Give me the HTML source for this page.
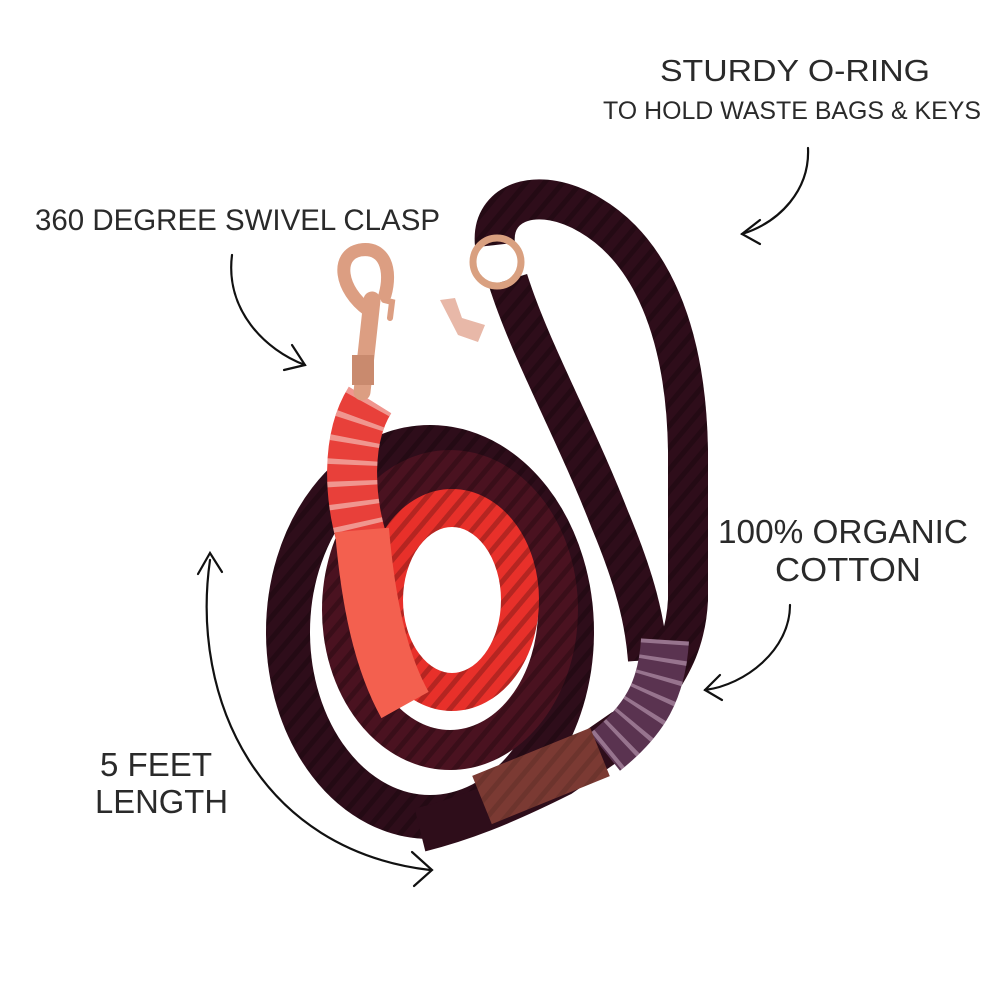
<!DOCTYPE html>
<html><head><meta charset="utf-8"><style>
html,body{margin:0;padding:0;background:#fff}
svg{display:block}
text{font-family:"Liberation Sans",sans-serif;fill:#2a2a2a}
</style></head><body>
<svg width="1000" height="1000" viewBox="0 0 1000 1000">
<defs>
<pattern id="tw" width="14" height="14" patternUnits="userSpaceOnUse" patternTransform="rotate(40)">
<rect width="5" height="14" fill="#000" opacity="0.22"/>
</pattern>
</defs>
<text x="795" y="81" font-size="31" text-anchor="middle" textLength="270" lengthAdjust="spacingAndGlyphs">STURDY O-RING</text>
<text x="792" y="119" font-size="25" text-anchor="middle" textLength="378" lengthAdjust="spacingAndGlyphs">TO HOLD WASTE BAGS &amp; KEYS</text>
<text x="35" y="230" font-size="30" textLength="405" lengthAdjust="spacingAndGlyphs">360 DEGREE SWIVEL CLASP</text>
<text x="718" y="543" font-size="33" textLength="250" lengthAdjust="spacingAndGlyphs">100% ORGANIC</text>
<text x="775" y="581" font-size="33" textLength="146" lengthAdjust="spacingAndGlyphs">COTTON</text>
<text x="100" y="776" font-size="33" textLength="112" lengthAdjust="spacingAndGlyphs">5 FEET</text>
<text x="95" y="813" font-size="33" textLength="133" lengthAdjust="spacingAndGlyphs">LENGTH</text>
<g fill="none" stroke="#111" stroke-width="2.2" stroke-linecap="round">
<path d="M808 148 C 810 190, 780 222, 742 234"/><path d="M760 220 L742 234 L760 244"/>
<path d="M232 255 C 225 310, 265 350, 305 365"/><path d="M292 345 L305 365 L284 370"/>
<path d="M790 605 C 790 650, 745 685, 705 690"/><path d="M720 675 L705 690 L722 700"/>
<path d="M210 560 C 190 700, 260 850, 430 870"/><path d="M198 574 L210 553 L222 572"/><path d="M412 852 L432 870 L414 886"/>
</g>
<!-- outer coil -->
<ellipse cx="430" cy="632" rx="142" ry="185" fill="none" stroke="#2e0d1a" stroke-width="44"/>
<ellipse cx="430" cy="632" rx="142" ry="185" fill="none" stroke="url(#tw)" stroke-width="44"/>
<ellipse cx="450" cy="610" rx="108" ry="140" fill="none" stroke="#4a1220" stroke-width="40"/>
<ellipse cx="450" cy="610" rx="108" ry="140" fill="none" stroke="url(#tw)" stroke-width="40"/>
<ellipse cx="452" cy="600" rx="68" ry="92" fill="none" stroke="#e8302a" stroke-width="38"/>
<ellipse cx="452" cy="600" rx="68" ry="92" fill="none" stroke="url(#tw)" stroke-width="38"/>
<!-- handle loop strands -->
<g fill="none" stroke-width="40">
<path id="a" d="M495 245 C 490 200, 540 185, 590 215 C 650 250, 686 330, 688 450 L 688 600 C 686 640, 672 665, 655 690" stroke="#2e0d1a"/>
<path d="M495 245 C 490 200, 540 185, 590 215 C 650 250, 686 330, 688 450 L 688 600 C 686 640, 672 665, 655 690" stroke="url(#tw)"/>
<path d="M508 280 C 530 350, 575 430, 610 520 C 635 580, 645 620, 648 660" stroke="#2e0d1a"/>
<path d="M508 280 C 530 350, 575 430, 610 520 C 635 580, 645 620, 648 660" stroke="url(#tw)"/>
<path d="M625 730 L560 775 C 500 805, 460 820, 420 830" stroke="#2e0d1a" stroke-width="44"/>
</g>
<path d="M665 640 C 662 690, 645 720, 605 752" fill="none" stroke="#5a3350" stroke-width="48"/>
<path d="M665 640 C 662 690, 645 720, 605 752" fill="none" stroke="#c0a0b8" stroke-width="48" stroke-dasharray="4 14" opacity="0.6"/>
<path d="M482 800 L600 752" fill="none" stroke="#7b3a33" stroke-width="52"/>
<path d="M482 800 L600 752" fill="none" stroke="url(#tw)" stroke-width="52" opacity="0.5"/>
<!-- red end -->
<path d="M370 400 C 345 440, 350 500, 362 540" fill="none" stroke="#e8403a" stroke-width="50"/>
<path d="M370 400 C 345 440, 350 500, 362 540" fill="none" stroke="#f5d0c8" stroke-width="50" stroke-dasharray="5 16" opacity="0.6"/>
<path d="M362 530 C 368 600, 380 660, 405 705" fill="none" stroke="#f3604f" stroke-width="54"/>
<!-- clasp -->
<g fill="none" stroke="#dc9e82" stroke-linecap="round">
<path d="M362 392 L372 300" stroke-width="17"/>
<path d="M368 310 C 340 290, 335 255, 360 250 C 385 246, 392 270, 385 295" stroke-width="13"/>
<path d="M384 300 L392 302 L390 318" stroke-width="6"/>
</g>
<rect x="352" y="355" width="22" height="30" fill="#c98a6e"/>
<!-- ring -->
<circle cx="497" cy="262" r="24" fill="none" stroke="#d9a080" stroke-width="7"/>
<path d="M440 300 L455 298 L462 318 L485 325 L478 342 L458 335 Z" fill="#e8b8a8"/>
</svg>
</body></html>
